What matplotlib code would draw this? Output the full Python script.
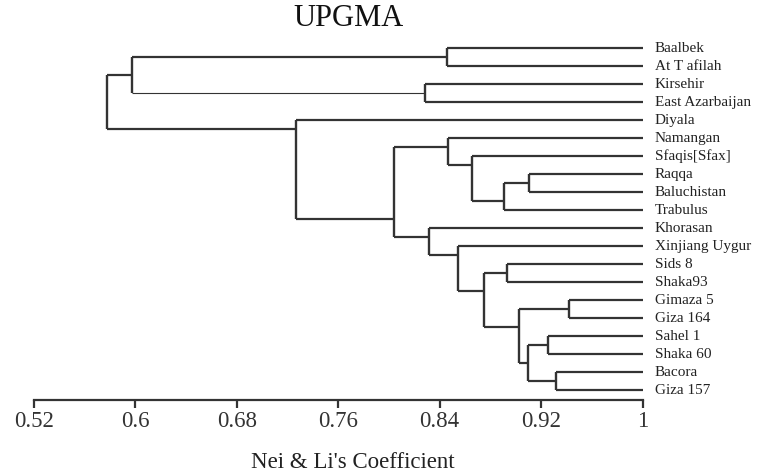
import matplotlib
matplotlib.use("Agg")
import matplotlib.pyplot as plt
import matplotlib.transforms as mtransforms

# leaves, top to bottom
labels = ["Baalbek", "At T afilah", "Kirsehir", "East Azarbaijan", "Diyala",
          "Namangan", "Sfaqis[Sfax]", "Raqqa", "Baluchistan", "Trabulus",
          "Khorasan", "Xinjiang Uygur", "Sids 8", "Shaka93", "Gimaza 5",
          "Giza 164", "Sahel 1", "Shaka 60", "Bacora", "Giza 157"]

# merges: node 20 + k joins merge_left[k] and merge_right[k] at merge_height[k]
merge_left = [0, 2, 20, 7, 23, 6, 5, 12, 14, 16, 18, 29, 28, 27, 11, 10, 26, 4, 22]
merge_right = [1, 3, 21, 8, 9, 24, 25, 13, 15, 17, 19, 30, 31, 32, 33, 34, 35, 36, 37]
merge_height = [0.8456, 0.8284, 0.5971, 0.9105, 0.8908, 0.8653, 0.8468, 0.8929,
                0.9418, 0.9252, 0.9318, 0.9094, 0.9026, 0.8752, 0.8542, 0.8318,
                0.8042, 0.7267, 0.5773]

xticks = [0.52, 0.6, 0.68, 0.76, 0.84, 0.92, 1]
xtick_labels = ["0.52", "0.6", "0.68", "0.76", "0.84", "0.92", "1"]

plt.rcParams['font.family'] = ['Liberation Serif', 'DejaVu Serif']

fig = plt.figure(figsize=(7.66, 4.74), dpi=100)
ax = fig.add_axes([34 / 766, 74 / 474, 608.5 / 766, 370 / 474])

n = len(labels)
node_x = {i: 1.0 for i in range(n)}
node_y = {i: float(i) for i in range(n)}
leaves = {i: [i] for i in range(n)}
for k in range(len(merge_left)):
    a, b = merge_left[k], merge_right[k]
    node = n + k
    leaves[node] = leaves[a] + leaves[b]
    node_x[node] = merge_height[k]
    # link sits at the boundary between the two child groups
    node_y[node] = (max(leaves[a]) + min(leaves[b])) / 2.0

col = "#333333"
for k in range(len(merge_left)):
    node = n + k
    x = node_x[node]
    a, b = merge_left[k], merge_right[k]
    ax.plot([x, x], [node_y[a], node_y[b]], color=col, lw=1.7, solid_capstyle="butt")
    for c in (a, b):
        lw = 0.8 if (node == 22 and c == 21) else 1.6
        ax.plot([x, node_x[c]], [node_y[c], node_y[c]], color=col, lw=lw,
                solid_capstyle="butt")

trans = mtransforms.offset_copy(ax.transData, fig=fig, x=12, y=0, units="dots")
for i, lab in enumerate(labels):
    ax.text(1.0, i, lab, transform=trans, fontsize=11, va="center", ha="left",
            color="#222222", clip_on=False)

ax.set_xlim(0.52, 1.0)
ax.set_ylim(19.54, -1.02)
for s in ["top", "left", "right"]:
    ax.spines[s].set_visible(False)
ax.spines["bottom"].set_color(col)
ax.spines["bottom"].set_linewidth(1.6)
ax.set_yticks([])
ax.set_xticks(xticks)
ax.set_xticklabels(xtick_labels, fontsize=16.5, color="#333333")
ax.tick_params(axis="x", direction="out", length=6, width=1.6, color=col, pad=2)

fig.text(348 / 766, 1 - 18 / 474, "UPGMA", fontsize=22, ha="center", va="center",
         color="#111111")
fig.text(353 / 766, 1 - 462 / 474, "Nei & Li's Coefficient", fontsize=16.5,
         ha="center", va="center", color="#222222")

fig.savefig("out.png", dpi=100)
